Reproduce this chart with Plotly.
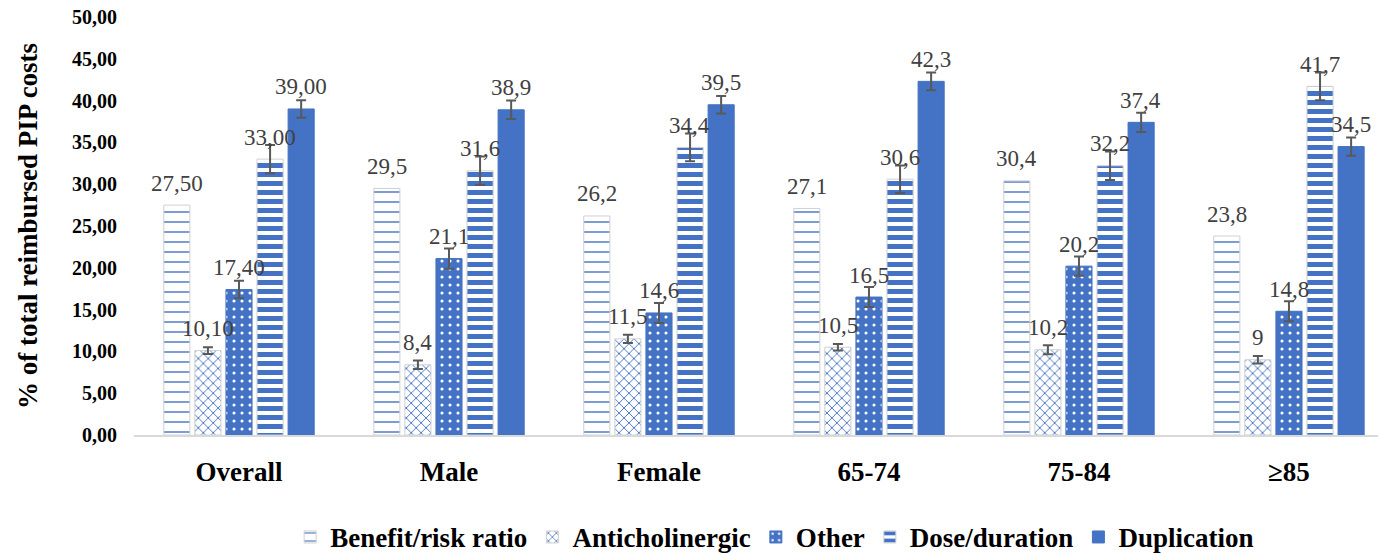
import plotly.graph_objects as go

# Categories and series values (% of total reimbursed PIP costs)
categories = ["Overall", "Male", "Female", "65-74", "75-84", "≥85"]
series_names = ["Benefit/risk ratio", "Anticholinergic", "Other", "Dose/duration", "Duplication"]

benefit_risk = [27.5, 29.5, 26.2, 27.1, 30.4, 23.8]
anticholinergic = [10.1, 8.4, 11.5, 10.5, 10.2, 9.0]
other = [17.4, 21.1, 14.6, 16.5, 20.2, 14.8]
dose_duration = [33.0, 31.6, 34.4, 30.6, 32.2, 41.7]
duplication = [39.0, 38.9, 39.5, 42.3, 37.4, 34.5]

# Half-widths of the error bars
err_benefit_risk = [0, 0, 0, 0, 0, 0]
err_anticholinergic = [0.4, 0.5, 0.5, 0.4, 0.55, 0.45]
err_other = [1.05, 1.2, 1.2, 1.2, 1.15, 1.2]
err_dose_duration = [1.7, 1.7, 1.65, 1.65, 1.7, 1.65]
err_duplication = [1.05, 1.1, 1.05, 1.05, 1.15, 1.1]

values = [benefit_risk, anticholinergic, other, dose_duration, duplication]
errors = [err_benefit_risk, err_anticholinergic, err_other, err_dose_duration, err_duplication]

BLUE = "#4472C4"
SERIF = "'Liberation Serif', 'Times New Roman', serif"
patterns = [
    dict(shape="-", fgcolor=BLUE, bgcolor="white", size=10, solidity=0.14, fillmode="replace"),
    dict(shape="x", fgcolor=BLUE, bgcolor="white", size=7, solidity=0.25, fillmode="replace"),
    dict(shape=".", fgcolor="white", bgcolor=BLUE, size=8, solidity=0.12, fillmode="replace"),
    dict(shape="-", fgcolor=BLUE, bgcolor="white", size=9, solidity=0.55, fillmode="replace"),
    None,
]


def fmt(v, cat):
    s = f"{v:.2f}" if cat == "Overall" else f"{v:g}"
    return s.replace(".", ",")


fig = go.Figure()
for name, vals, errs, pat in zip(series_names, values, errors, patterns):
    light = bool(pat) and pat["bgcolor"] == "white"
    marker = dict(color="white" if light else BLUE,
                  line=dict(color="#d0d0d0" if light else BLUE, width=1))
    if pat:
        marker["pattern"] = pat
    show_err = any(e > 0 for e in errs)
    fig.add_trace(go.Bar(
        name=name, x=categories, y=vals, marker=marker,
        error_y=dict(type="data", array=errs, visible=show_err,
                     color="#595959", thickness=2, width=5),
        hoverinfo="x+y",
    ))

# Value labels above each bar
slot_px = 31
for si, vals in enumerate(values):
    for ci, cat in enumerate(categories):
        fig.add_annotation(
            x=cat, y=vals[ci], text=fmt(vals[ci], cat), showarrow=False,
            xshift=(si - 2) * slot_px, yshift=22, yanchor="middle",
            font=dict(family=SERIF, size=23, color="#404040"),
        )

fig.update_layout(
    width=1378, height=553,
    font=dict(family=SERIF, color="black"),
    margin=dict(l=134, r=0, t=17, b=118, autoexpand=False),
    paper_bgcolor="white", plot_bgcolor="white",
    barmode="group", bargap=0.26, bargroupgap=0.16,
    separators=",.",
    showlegend=True,
    legend=dict(orientation="h", x=0.515, xanchor="center", y=-0.245, yanchor="middle",
                font=dict(family=SERIF, size=27, color="black", weight="bold"),
                itemwidth=30, tracegroupgap=0),
    xaxis=dict(
        range=[-0.5, 5.424], showline=True, linecolor="#d9d9d9", linewidth=2,
        ticks="", showgrid=False, ticklabelstandoff=12, automargin=False,
        tickfont=dict(family=SERIF, size=27, color="black", weight="bold"),
    ),
    yaxis=dict(
        range=[0, 50], dtick=5, tickformat=".2f", showgrid=False, zeroline=False,
        showline=False, ticks="", ticklabelstandoff=16, automargin=False,
        tickfont=dict(family=SERIF, size=20, color="black", weight="bold"),
        title=dict(text="% of total reimbursed PIP costs", standoff=26,
                   font=dict(family=SERIF, size=27, color="black", weight="bold")),
    ),
)

fig.write_html("out.html")
